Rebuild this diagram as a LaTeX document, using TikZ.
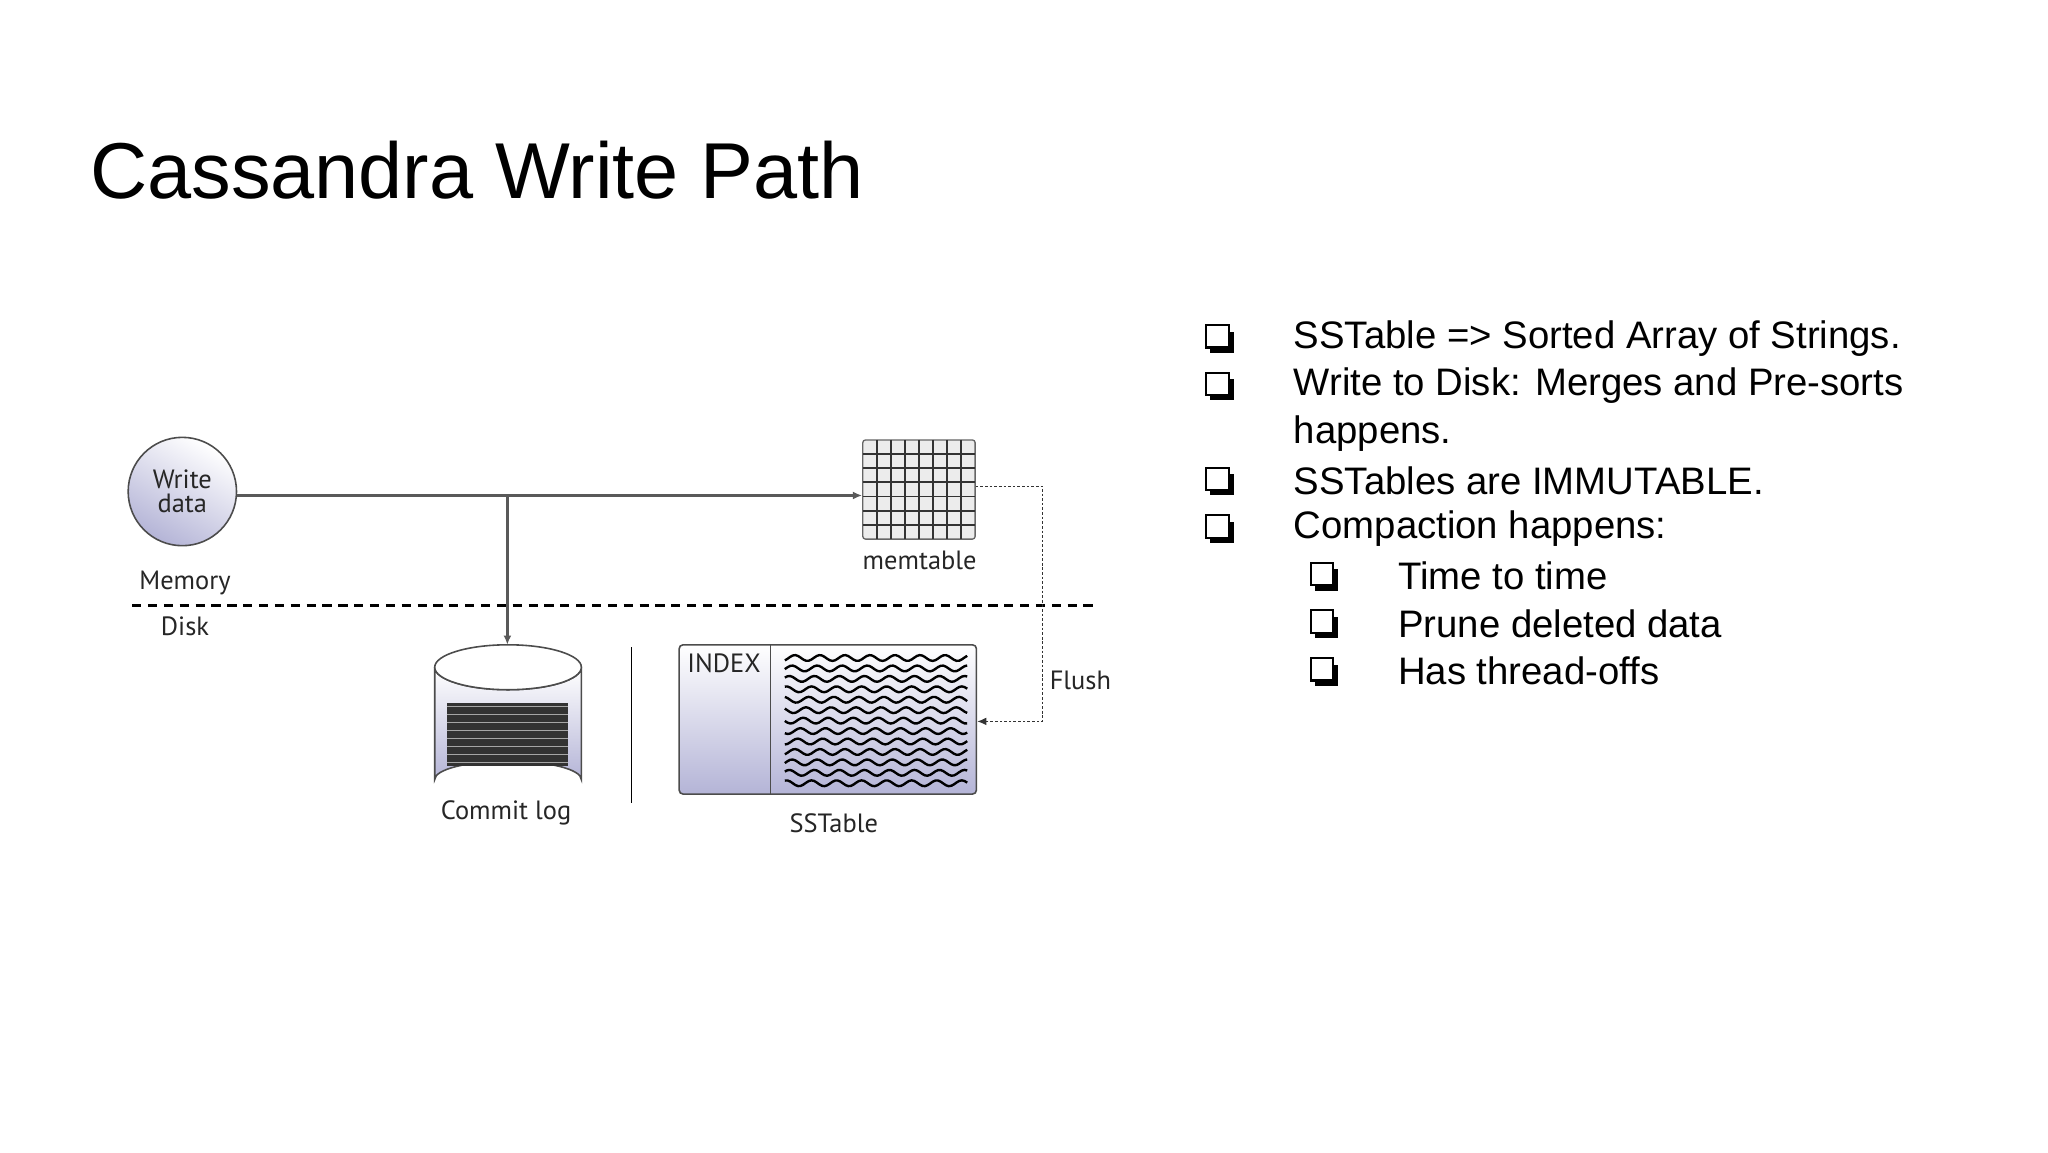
\documentclass[tikz,border=0pt]{standalone}
\usepackage{fontspec}
\setmainfont{Liberation Sans}
\newfontfamily\gill{PT Sans}
\usetikzlibrary{arrows.meta}
\begin{document}
\begin{tikzpicture}[x=1pt,y=-1pt,
  lbl/.style={font=\gill\fontsize{20}{22}\selectfont,text=black!85},
  bul/.style={anchor=west,font=\fontsize{29}{32}\selectfont,inner sep=0},
  blue/.style={top color=white,bottom color=blue!30!gray!45,draw=black!70,line width=1.2pt},
  conn/.style={draw=black!65,line width=2pt,-{Latex[length=7pt,width=6pt]}}]
\useasboundingbox (0,0) rectangle (1550,872);
\fill[white] (0,0) rectangle (1550,872);
\node[anchor=base west,inner sep=0,font=\fontsize{60}{64}\selectfont] (title) at (68,150) {Cassandra Write Path};
% write data
\node[circle,blue,minimum size=82pt,align=center,lbl,inner sep=0,shading angle=-30] (wd) at (138,372) {Write\\[-4pt]data};
% memtable
\node[draw=black!60,line width=1pt,fill=gray!15,minimum width=85pt,minimum height=75pt,rounded corners=2pt,inner sep=0] (mt) at (695.5,370.5) {};
\foreach \i in {1,...,7} \draw[black!80,line width=1.4pt] (653+\i*10.6,333) -- (653+\i*10.6,408);
\foreach \j in {1,...,6} \draw[black!80,line width=1.4pt] (653,333+\j*10.7) -- (738,333+\j*10.7);
\node[lbl] (mtl) at (696,424) {memtable};
\coordinate (br) at (384,375);
\draw[conn] (wd.east |- br) -- (mt.west |- br);
% commit log
\path[blue] (329,505) -- (329,590) arc[start angle=180,end angle=360,x radius=55.5,y radius=14] -- (440,505) arc[start angle=0,end angle=180,x radius=55.5,y radius=17] -- cycle;
\draw[black!70,line width=1.2pt,fill=white] (384.5,505) ellipse[x radius=55.5,y radius=17];
\coordinate (cl) at (384,488);
\draw[conn] (br) -- (cl);
\fill[black!80] (338,532) rectangle (430,580);
\foreach \j in {0,...,7} \draw[gray!70,line width=0.8pt] (338,535+\j*6) -- (430,535+\j*6);
\node[lbl] (cll) at (383,615) {Commit log};
\draw[black,line width=1.2pt] (478,490) -- (478,608);
% memory / disk
\node[lbl] (mem) at (140,441) {Memory};
\node[lbl] (disk) at (140,474) {Disk};
\draw[black,line width=2.5pt,dash pattern=on 7pt off 5pt] (100,458) -- (828,458);
% sstable
\node[blue,rounded corners=3pt,minimum width=225pt,minimum height=113pt,inner sep=0] (ss) at (626.5,544.5) {};
\draw[black!70,line width=1.2pt] (583,488) -- (583,601);
\node[lbl] (idx) at (548,502) {INDEX};
\foreach \j in {0,...,12}
  \draw[black,line width=1.8pt] plot[domain=594:732,samples=70,smooth] (\x,{498+\j*7.9+2.2*sin(\x*19+\j*40)});
\node[lbl] (ssl) at (631,623) {SSTable};
% flush
\coordinate (f1) at (789,368);
\coordinate (f2) at (789,546);
\draw[black!80,line width=1pt,dash pattern=on 2pt off 1.5pt,-{Latex[length=7pt,width=6pt]}] (mt.east |- f1) -- (f1) -- (f2) -- (ss.east |- f2);
\node[lbl,anchor=west] (fl) at (791,515) {Flush};
% bullets
\foreach \t/\y/\x in {{SSTable => Sorted Array of Strings.}/256/979,{Write to Disk: Merges and Pre-sorts}/292/979,{happens.}/328/979,{SSTables are IMMUTABLE.}/364/979,{Compaction happens:}/400/979,{Time to time}/436/1058,{Prune deleted data}/472/1058,{Has thread-offs}/508/1058}
  \node[bul] at (\x,\y) {\t};
\foreach \y/\x in {256/923,292/923,364/923,400/923,436/1002,472/1002,508/1002}{
  \fill[black] (\x-7,\y-5) rectangle (\x+11,\y+11);
  \fill[white] (\x-10,\y-10) rectangle (\x+7,\y+7);
  \draw[black,line width=1.6pt] (\x-10,\y-10) rectangle (\x+7,\y+7);
}
\end{tikzpicture}
\end{document}
